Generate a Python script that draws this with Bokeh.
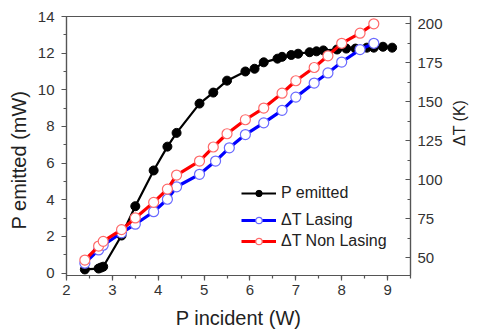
import math
from bokeh.plotting import figure
from bokeh.models import Range1d, LinearAxis, SingleIntervalTicker, Legend, LegendItem, Title
from bokeh.embed import file_html
from bokeh.resources import INLINE

# P emitted (mW) vs P incident (W)
p_inc = [2.4, 2.7, 2.75, 2.8, 3.2, 3.5, 3.9, 4.2, 4.4, 4.9, 5.2, 5.5, 5.9, 6.1, 6.3,
         6.6, 6.7, 6.9, 7.05, 7.3, 7.45, 7.6, 7.9, 8.1, 8.3, 8.55, 8.7, 8.9, 9.1]
p_emit = [0.2, 0.25, 0.3, 0.35, 2.05, 3.65, 5.6, 6.9, 7.65, 9.25, 9.85, 10.5, 11.0, 11.15, 11.5,
          11.7, 11.8, 11.9, 11.97, 12.05, 12.1, 12.15, 12.2, 12.25, 12.25, 12.3, 12.3, 12.35, 12.3]

# Delta T (K), lasing
las_x = [2.4, 2.7, 2.8, 3.2, 3.5, 3.9, 4.2, 4.4, 4.9, 5.25, 5.55, 5.9, 6.3, 6.7,
         7.0, 7.4, 7.7, 8.0, 8.4, 8.7]
las_t = [46.5, 55, 58, 66, 71.5, 79.5, 87.5, 95.5, 103.5, 112, 120.5, 129, 136.5, 144.5,
         153, 162, 168.5, 175.5, 183.5, 187.5]

# Delta T (K), non lasing
non_x = [2.4, 2.7, 2.8, 3.2, 3.5, 3.9, 4.2, 4.4, 4.9, 5.2, 5.5, 5.9, 6.3, 6.7,
         7.0, 7.4, 7.7, 8.0, 8.4, 8.7]
non_t = [48.5, 57.5, 60.5, 68, 75.5, 85.5, 94, 103, 112, 121, 129.5, 138.5, 146, 155.5,
         163.5, 172, 179.5, 187.5, 194, 200]

FONT = "Liberation Sans"
AX = "#555555"
TXT = "#333333"

p = figure(width=479, height=333, output_backend="svg", toolbar_location=None,
           x_range=Range1d(2, 9.5), y_range=Range1d(-0.13, 14),
           min_border_left=65, min_border_right=65, min_border_top=16, min_border_bottom=58)
p.extra_y_ranges = {"T": Range1d(38.6, 204.7)}
p.grid.visible = False
p.outline_line_color = AX
p.outline_line_width = 1.2
p.background_fill_color = "white"
p.border_fill_color = "white"

def style(ax, interval):
    ax.ticker = SingleIntervalTicker(interval=interval, num_minor_ticks=2)
    ax.axis_label_text_font = FONT
    ax.axis_label_text_font_size = "20px"
    ax.axis_label_text_font_style = "normal"
    ax.axis_label_text_color = "#222222"
    ax.major_label_text_font = FONT
    ax.major_label_text_font_size = "15px"
    ax.major_label_text_color = TXT
    ax.axis_line_color = AX
    ax.axis_line_width = 1.2
    ax.major_tick_line_color = AX
    ax.minor_tick_line_color = AX
    ax.major_tick_line_width = 1.2
    ax.minor_tick_line_width = 1.2
    ax.major_tick_out = 5
    ax.major_tick_in = 0
    ax.minor_tick_out = 3
    ax.minor_tick_in = 0

style(p.xaxis[0], 1)
p.xaxis[0].axis_label = "P incident (W)"
p.xaxis[0].major_label_standoff = 4
p.xaxis[0].axis_label_standoff = 9
style(p.yaxis[0], 2)
p.yaxis[0].major_label_standoff = 7

rax = LinearAxis(y_range_name="T")
style(rax, 25)
rax.major_tick_out = 0
rax.major_tick_in = 5
rax.minor_tick_out = 0
rax.minor_tick_in = 3
rax.major_label_standoff = 7
rax.axis_label = "\u0394T (K)"
rax.axis_label_text_font_size = "16px"
rax.axis_label_standoff = 14
rax.axis_label_orientation = math.pi / 2
p.add_layout(rax, "right")

# left vertical title, shifted down as in the original
p.add_layout(Title(text="P emitted (mW)", align="left", offset=46, standoff=10,
                   text_font=FONT, text_font_size="20px", text_font_style="normal",
                   text_color="#222222"), "left")

bl = p.line(p_inc, p_emit, line_color="black", line_width=2.2)
bs = p.scatter(p_inc, p_emit, size=9, fill_color="black", line_color="black")

ul = p.line(las_x, las_t, y_range_name="T", line_color="#0000ff", line_width=3.2)
us = p.scatter(las_x, las_t, y_range_name="T", size=10, fill_color="white",
               line_color="#6a6aff", line_width=1.2)

rl = p.line(non_x, non_t, y_range_name="T", line_color="#ff0000", line_width=3.2)
rs = p.scatter(non_x, non_t, y_range_name="T", size=10, fill_color="white",
               line_color="#ff6a6a", line_width=1.2)

def mk_legend(items, loc):
    return Legend(items=items, location=loc, orientation="vertical",
                  glyph_width=35, glyph_height=16, label_height=16, spacing=3,
                  label_standoff=5, padding=0, margin=0,
                  border_line_color=None, background_fill_alpha=0,
                  label_text_font=FONT, label_text_font_size="16px",
                  label_text_color="#222222")

p.add_layout(mk_legend([LegendItem(label="P emitted", renderers=[bl, bs])], (175, 73)), "center")
p.add_layout(mk_legend([LegendItem(label="\u0394T Lasing", renderers=[ul, us]),
                        LegendItem(label="\u0394T Non Lasing", renderers=[rl, rs])], (175, 25)), "center")

open("out.html", "w").write(file_html(p, INLINE))
